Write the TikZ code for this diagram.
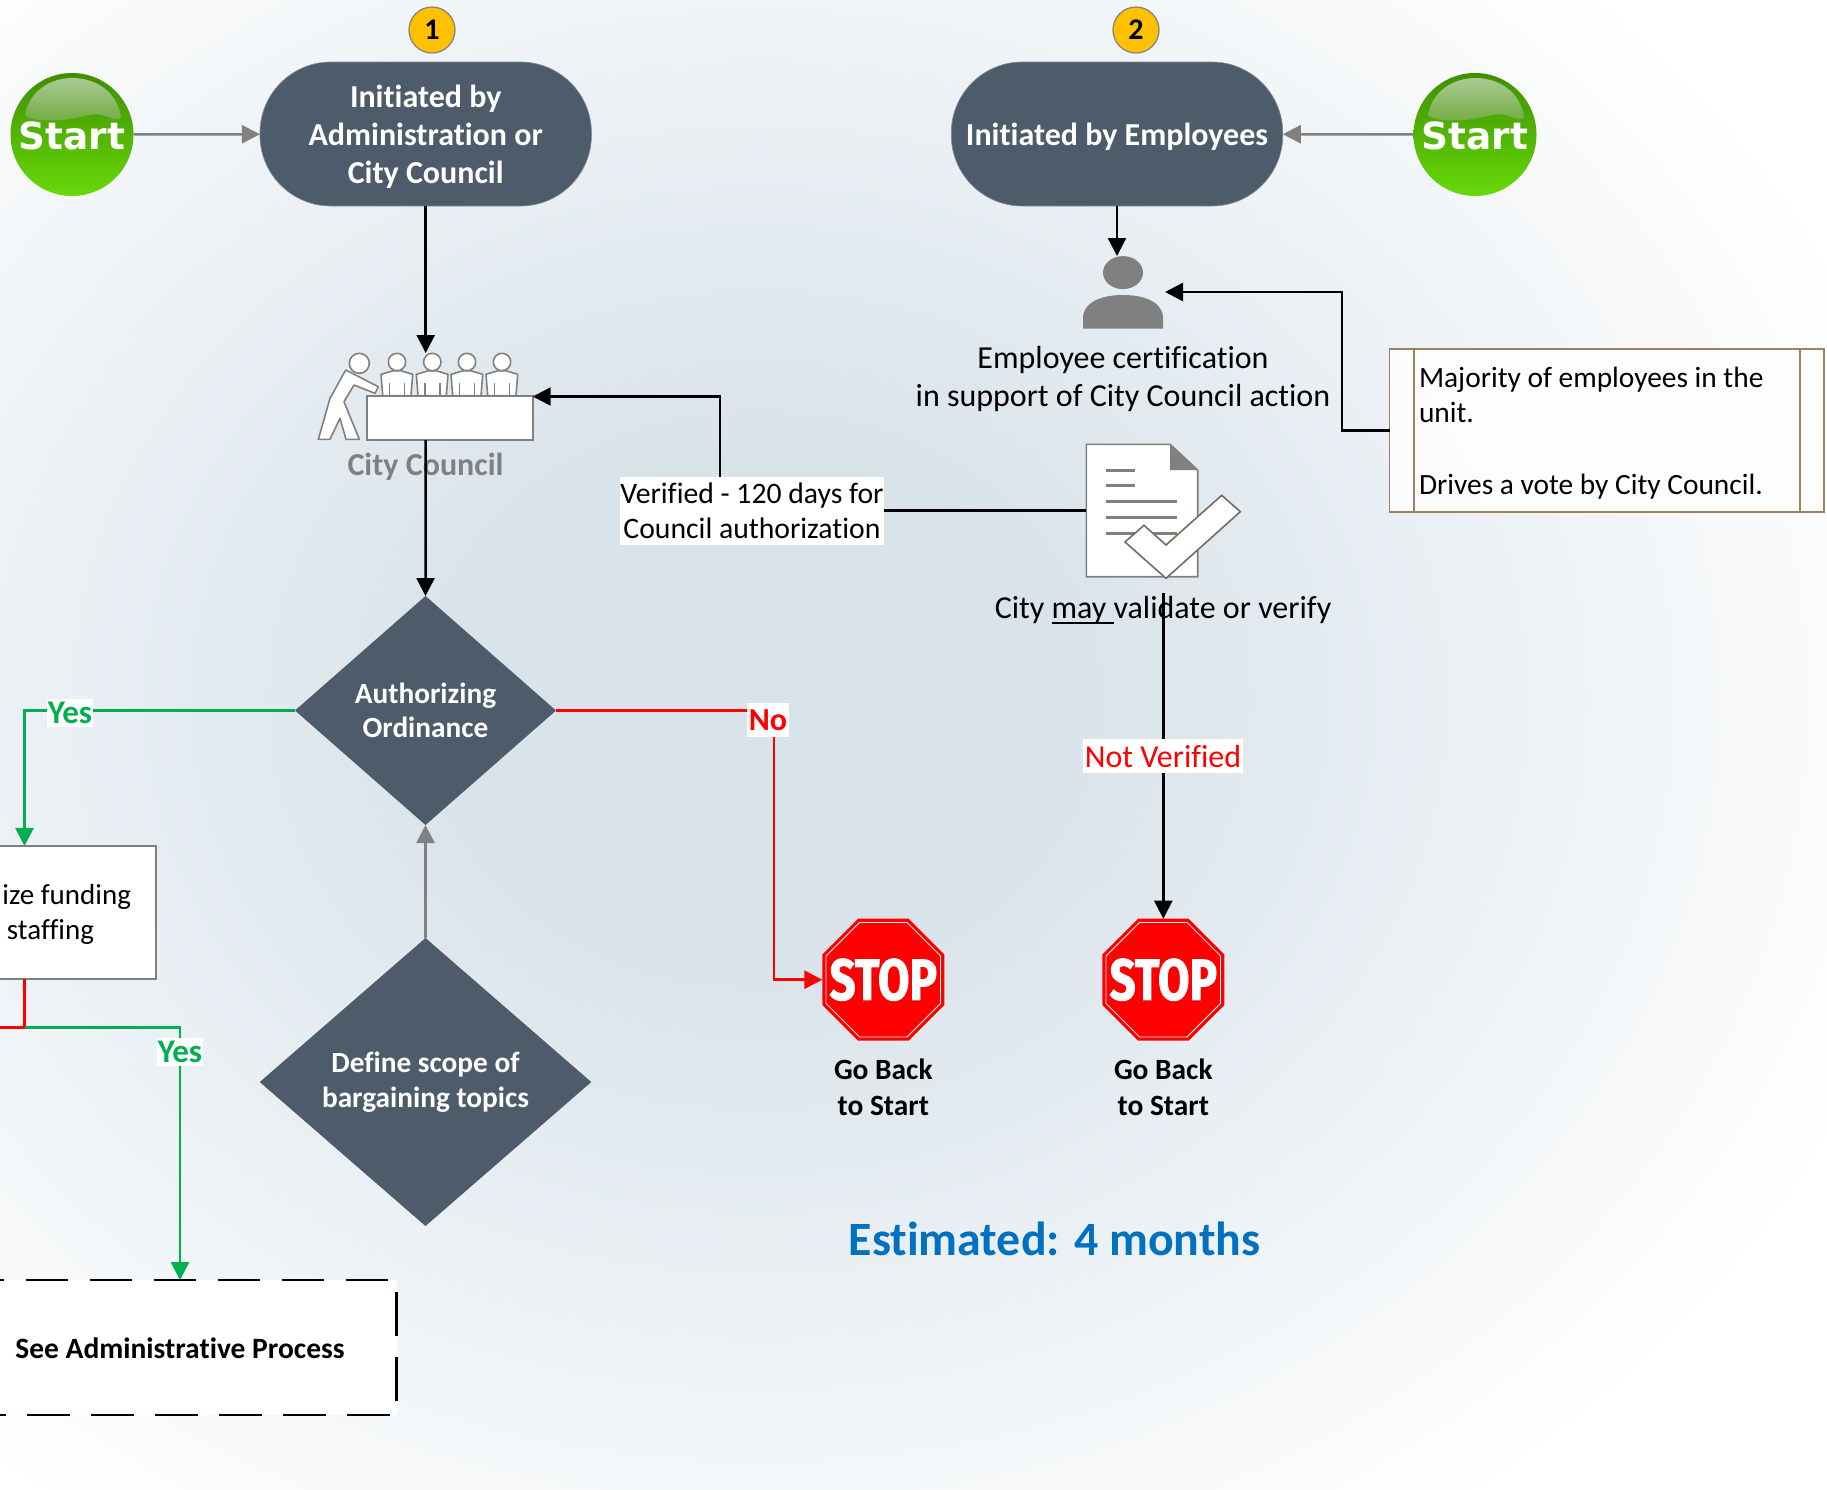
\documentclass[tikz,border=0pt]{standalone}
\usepackage{fontspec}
\setmainfont{Carlito}[Ligatures=NoCommon]
\newfontfamily\startfont{DejaVu Sans}
\newfontfamily\stopfont{Fira Sans}[BoldFeatures={FakeBold=1.6}]
\usetikzlibrary{shapes.geometric,arrows.meta,calc}
\definecolor{slateblue}{HTML}{4D5B6B}
\definecolor{midgray}{HTML}{808080}
\definecolor{goodgreen}{HTML}{00B050}
\definecolor{badred}{HTML}{FF0000}
\definecolor{amber}{HTML}{FFC000}
\definecolor{estblue}{HTML}{0070C0}
\definecolor{notebrown}{HTML}{9C8060}
\definecolor{checkbrown}{HTML}{7A6A60}
\definecolor{bgmid}{HTML}{D9E3EA}
\definecolor{balltop}{HTML}{3F8E00}
\definecolor{ballmid}{HTML}{4FA605}
\definecolor{ballbot}{HTML}{67DA0A}
\definecolor{glosstop}{HTML}{A9CA92}
\definecolor{glossbot}{HTML}{6FAA3E}
\tikzset{
  startball/.style={circle,minimum size=123,inner sep=0,outer sep=0,
    top color=balltop,middle color=ballmid,bottom color=ballbot},
  startword/.style={inner sep=0,outer sep=0,text=white,font=\startfont\bfseries\fontsize{37.4}{40}\selectfont},
  pill/.style={rectangle,rounded corners=71pt,fill=slateblue,draw=slateblue!70!white,line width=.6,
    minimum width=331.5,minimum height=144,inner sep=0,outer sep=0,align=center,text=white,
    font=\bfseries\fontsize{32}{38}\selectfont},
  decision/.style={diamond,fill=slateblue,inner sep=0,outer sep=0,aspect=1.15,align=center,text=white,
    font=\bfseries\fontsize{29.3}{34.5}\selectfont},
  badge/.style={circle,fill=amber,draw=midgray,line width=1.2,minimum size=46,inner sep=0,outer sep=0,
    font=\bfseries\fontsize{30}{34}\selectfont},
  stopsign/.style={regular polygon,regular polygon sides=8,minimum size=132,
    inner sep=0,outer sep=0,fill=badred,text=white,
    path picture={
      \begin{scope}[shift={(path picture bounding box.center)}]
      \draw[white,line width=.8] (22.5:62) -- (67.5:62) -- (112.5:62) -- (157.5:62)
        -- (202.5:62) -- (247.5:62) -- (292.5:62) -- (337.5:62) -- cycle;
      \end{scope}}},
  stopword/.style={font=\stopfont\bfseries\fontsize{58}{60}\selectfont},
  plain/.style={inner sep=0,outer sep=0,align=center,font=\fontsize{32}{37.5}\selectfont},
  fundtext/.style={inner sep=0,outer sep=0,font=\fontsize{29}{37}\selectfont},
  boldtext/.style={inner sep=0,outer sep=0,align=center,font=\bfseries\fontsize{29.4}{36}\selectfont},
  linelabel/.style={fill=white,inner xsep=.6pt,inner ysep=6pt,outer sep=0,align=center,font=\fontsize{29.7}{35}\selectfont},
  notverified/.style={fill=white,text=badred,inner xsep=1.5pt,inner ysep=5.5pt,outer sep=0,font=\fontsize{32}{36}\selectfont},
  yeslabel/.style={fill=white,text=goodgreen,inner xsep=1pt,inner ysep=3pt,outer sep=0,font=\bfseries\fontsize{33}{36}\selectfont},
  nolabel/.style={fill=white,text=badred,inner xsep=2pt,inner ysep=6.5pt,outer sep=0,font=\bfseries\fontsize{32}{36}\selectfont},
  blackline/.style={draw=black,line width=2.5},
  grayline/.style={draw=midgray,line width=2.5},
  greenline/.style={draw=goodgreen,line width=2.8},
  redline/.style={draw=badred,line width=2.8},
  head/.style={-{Triangle[length=18,width=18]}},
  icon/.style={inner sep=0,outer sep=0},
  figure/.style={draw=midgray,fill=white,line width=1.6,line join=round},
}
\newcommand{\councilman}[1]{%
  \begin{scope}[shift={(#1,362)}]
    \draw[figure] (-16,12.3) -- (-3.7,8.7) -- (3.7,8.7) -- (15.7,12.3) -- (14,33.7) -- (-14.3,33.7) -- cycle;
    \draw[midgray,line width=1.6] (-7.5,21) -- (-7.5,33.7) (7.5,21) -- (7.5,33.7);
    \draw[figure] (0,0) circle (8.7);
  \end{scope}}
\newcommand{\startbutton}[3]{%
  \node[startball] (#1) at (#2,#3) {};
  \begin{scope}[shift={(#2,#3)}]
    \shade[top color=glosstop,bottom color=glossbot]
      (-47,-20) .. controls (-42,-45) and (-20,-56.5) .. (0,-56.5)
      .. controls (25,-56.5) and (45,-42) .. (49,-18)
      .. controls (45,-10) and (35,-22) .. (20,-20)
      .. controls (5,-17) and (-5,-14) .. (-20,-14)
      .. controls (-30,-14) and (-45,-15) .. (-47,-20) -- cycle;
  \end{scope}
  \node[startword] (#1word) at (#2,#3+1) {Start};}
\newcommand{\myul}[1]{\setbox0\hbox{#1}\rlap{\rule[-5pt]{\wd0}{1.9pt}}\box0 }
\newcommand{\lowered}[1]{\raisebox{-2.8pt}[\height][\depth]{#1}}
\begin{document}
\begin{tikzpicture}[x=1pt,y=-1pt]
\useasboundingbox (0,0) rectangle (1827,1489);
\clip (0,0) rectangle (1827,1489);
% background: soft glow, white at the corners
\fill[white] (0,0) rectangle (1827,1489);
\foreach \i in {0,...,60}{
  \pgfmathsetmacro{\tval}{1-\i*0.0125}
  \pgfmathsetmacro{\pct}{100*(1-\tval)/0.75}
  \fill[bgmid!\pct!white] (760,700) ellipse ({1200*\tval} and {1000*\tval});
}

% start buttons
\startbutton{s1}{72}{134.5}
\startbutton{s2}{1475}{134.5}

% pills and badges
\node[pill] (p1) at (425.7,134) {\lowered{\parbox{300pt}{\centering Initiated by\\Administration or\\City Council}}};
\node[pill] (p2) at (1117,134) {\lowered{Initiated by Employees}};
\node[badge] (b1) at (432,30) {1};
\node[badge] (b2) at (1136,30) {2};

% city council icon
\node[icon,minimum width=214.7,minimum height=87] (ccicon) at (425.35,396.5) {};
\councilman{397}\councilman{432.3}\councilman{467}\councilman{502}
\draw[figure] (359.3,363.3) circle (10);
\draw[figure] (345.7,370) -- (378.3,386.7) -- (375,393.3) -- (354,385) -- (344,401.7)
  -- (359.3,439.3) -- (346,439.3) -- (340,418.3) -- (330,439.3) -- (318.3,439.3) -- (330,398.3) -- cycle;
\node[draw=midgray,fill=white,line width=1.8,inner sep=0,outer sep=0,minimum width=166,minimum height=44.3] (table) at (449.7,417.9) {};
\node[inner sep=0,outer sep=0,text=midgray,font=\bfseries\fontsize{32}{36}\selectfont] (cclabel) at (425.5,466.5) {City Council};

% employee icon
\node[icon,minimum width=83,minimum height=72] (emp) at (1123.5,292) {};
\fill[midgray] (1123,272.6) ellipse (20 and 16.5);
\fill[midgray] (1083,328.5) -- (1083,318) .. controls (1083,303) and (1100,295) .. (1123,295)
  .. controls (1146,295) and (1163,303) .. (1163,318) -- (1163,328.5) -- cycle;
\node[plain] (emptext) at (1123,379) {Employee certification\\in support of City Council action};

% note box
\node[draw=notebrown,fill=white,fill opacity=.85,line width=1.8,inner sep=0,outer sep=0,
  minimum width=434.5,minimum height=163] (note) at (1606.8,430.5) {};
\draw[notebrown,line width=1.8] ($(note.north west)+(24.5,0)$) -- ($(note.south west)+(24.5,0)$);
\draw[notebrown,line width=1.8] ($(note.north east)+(-24,0)$) -- ($(note.south east)+(-24,0)$);
\node[inner sep=0,outer sep=0,anchor=west,align=flush left,font=\fontsize{29.4}{35.7}\selectfont] (notetext) at (1419,433)
  {Majority of employees in the\\unit.\\[35.7pt]Drives a vote by City Council.};

% document icon
\node[icon,minimum width=111.4,minimum height=132.4] (doc) at (1142,510.5) {};
\draw[midgray,fill=white,line width=1.6] (1086.3,444.3) -- (1170,444.3) -- (1197.7,470) -- (1197.7,576.7) -- (1086.3,576.7) -- cycle;
\fill[midgray] (1170,444.3) -- (1197.7,470) -- (1170,470) -- cycle;
\draw[midgray,line width=3] (1106.3,470) -- (1135,470) (1106.3,485.7) -- (1135,485.7)
  (1106.3,501.7) -- (1177.3,501.7) (1106.3,517.7) -- (1177.3,517.7) (1106.3,533.7) -- (1177.3,533.7);
\draw[checkbrown,fill=white,line width=1.6,line join=miter] (1125,542) -- (1144,525.3) -- (1166,545) -- (1221.7,495.3) -- (1240.3,511.7) -- (1166,578.3) -- cycle;
\node[plain] (vtext) at (1163,610) {City \myul{may\ }validate or verify};

% decisions
\node[decision,minimum width=261,minimum height=229] (d1) at (425.5,710.5) {Authorizing\\Ordinance};
\node[decision,minimum width=331.5,minimum height=288] (d2) at (425.5,1082) {Define scope of\\bargaining topics};

% funding box
\node[draw=midgray,fill=white,line width=2,inner sep=0,outer sep=0,minimum width=176.3,minimum height=133.5] (fund) at (68.2,912.7) {};
\node[fundtext,anchor=east] (fund1) at (131,897) {ize funding};
\node[fundtext,anchor=east] (fund2) at (94,932) {staffing};

% see administrative process
\node[fill=white,inner sep=0,outer sep=0,minimum width=437,minimum height=135] (admin) at (178.5,1347.5) {};
\draw[black,line width=2.5,dash pattern=on 42.6 off 21.4] (-38.3,1280) -- (397,1280);
\draw[black,line width=2.5,dash pattern=on 43.6 off 21.4] (396.7,1292) -- (396.7,1412);
\draw[black,line width=2.5,dash pattern=on 42.6 off 21.4] (390,1415) -- (-20,1415);
\node[inner sep=0,outer sep=0,font=\bfseries\fontsize{29.5}{34}\selectfont] (admintext) at (180,1348) {See Administrative Process};

% stop signs
\node[stopsign] (stop1) at (883.3,979.7) {};
\node[stopword,text=white,inner sep=0] (stopw1) at (883.3,979.7) {\scalebox{0.79}[1]{STOP}};
\node[stopsign] (stop2) at (1163.3,979.7) {};
\node[stopword,text=white,inner sep=0] (stopw2) at (1163.3,979.7) {\scalebox{0.79}[1]{STOP}};
\node[boldtext] (back1) at (883.3,1087) {Go Back\\to Start};
\node[boldtext] (back2) at (1163.3,1087) {Go Back\\to Start};

% estimate
\node[inner sep=0,outer sep=0,text=estblue,font=\bfseries\fontsize{47.8}{52}\selectfont] (est) at (1054.5,1239) {Estimated: 4 months};

% connectors
\draw[grayline,head] (s1) -- (p1);
\draw[grayline,head] (s2) -- (p2);
\draw[blackline,head] (p1.south) -- (p1.south |- ccicon.north);
\draw[blackline,head] (p1.south |- table.south) -- (d1.north);
\draw[blackline,head] (p2.south) -- (p2.south |- emp.north);
\coordinate (b3) at (1342,430.5);
\draw[blackline,head] (note.west) -- (b3) -- (b3 |- emp.east) -- (emp.east);
\coordinate (b4) at (720,510.5);
\draw[blackline,head] (doc.west) -- (b4) -- (b4 |- ccicon.east) -- (ccicon.east);
\coordinate (nvtop) at (1163.3,593);
\draw[blackline,head] (nvtop) -- (stop2.north);
\draw[grayline,head] (d2.north) -- (d1.south);
\coordinate (g1) at (24.5,710.5);
\draw[greenline,head] (d1.west) -- (g1) -- (g1 |- fund.north);
\coordinate (n1) at (774,710.5);
\draw[redline,head] (d1.east) -- (n1) -- (n1 |- stop1.west) -- (stop1.west);
\coordinate (j1) at (24.5,1027.5);
\draw[redline] (j1 |- fund.south) -- (j1) -- (-10,1027.5);
\coordinate (g2) at (180,1027.5);
\draw[greenline,head] (j1) -- (g2) -- (g2 |- admin.north);

% connector labels
\node[linelabel] (lab1) at (752,511) {Verified - 120 days for\\Council authorization};
\node[notverified] (lab2) at (1163,756) {Not Verified};
\node[yeslabel] (lab3) at (70,713) {Yes};
\node[nolabel] (lab4) at (768,720) {No};
\node[yeslabel] (lab5) at (180,1052) {Yes};
\end{tikzpicture}
\end{document}
